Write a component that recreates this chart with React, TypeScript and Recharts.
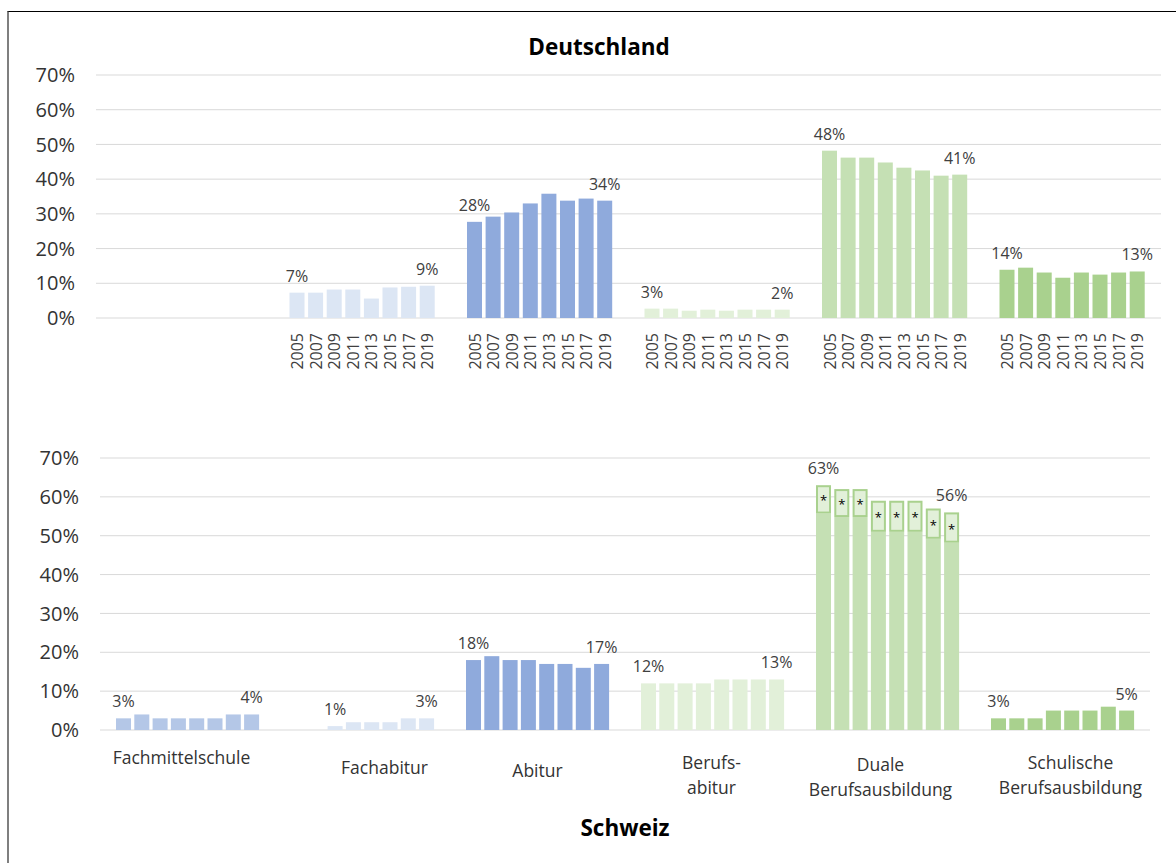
import { Bar, BarChart, CartesianGrid, XAxis, YAxis } from "recharts";

const FONT = '"Open Sans", "Noto Sans", sans-serif';

const groups = [
  "Fachmittelschule",
  "Fachabitur",
  "Abitur",
  "Berufs-\nabitur",
  "Duale\nBerufsausbildung",
  "Schulische\nBerufsausbildung",
];
const years = ["2005", "2007", "2009", "2011", "2013", "2015", "2017", "2019"];
const yTicks = [0, 10, 20, 30, 40, 50, 60, 70];

// Deutschland (%)
const deFachmittelschule = [null, null, null, null, null, null, null, null];
const deFachabitur = [7.3, 7.3, 8.2, 8.2, 5.6, 8.8, 9.0, 9.3];
const deAbitur = [27.7, 29.2, 30.4, 33.0, 35.8, 33.8, 34.4, 33.8];
const deBerufsabitur = [2.7, 2.7, 2.1, 2.4, 2.1, 2.4, 2.4, 2.4];
const deDuale = [48.2, 46.2, 46.2, 44.8, 43.3, 42.5, 41.0, 41.3];
const deSchulisch = [13.9, 14.5, 13.1, 11.6, 13.1, 12.5, 13.1, 13.4];

// Schweiz (%)
const chFachmittelschule = [3, 4, 3, 3, 3, 3, 4, 4];
const chFachabitur = [null, null, 1, 2, 2, 2, 3, 3];
const chAbitur = [18, 19, 18, 18, 17, 17, 16, 17];
const chBerufsabitur = [12, 12, 12, 12, 13, 13, 13, 13];
const chDuale = [63, 62, 62, 59, 59, 59, 57, 56];
const chDualeStar = [7.3, 7.2, 7.2, 8, 8, 8, 7.8, 7.8]; // "*" share on top of the bar
const chSchulisch = [3, 3, 3, 5, 5, 5, 6, 5];

const colors = ["#b4c7e7", "#dce6f4", "#8faadc", "#e2f0d9", "#c5e0b4", "#a9d18e"];

// nudges for the Swiss group labels: [dx, center y below axis]
const LABEL_NUDGE = [
  [-6, 27],
  [22, 37],
  [0, 40],
  [-1, 32],
  [-7, 34],
  [8, 32],
];

type Val = number | null;

function buildRows(series: Val[][], star?: Val[][]) {
  return groups.map((g, gi) => {
    const row: any = { group: g, gi };
    years.forEach((y, yi) => {
      const v = series[gi][yi];
      const s = star ? star[gi][yi] : null;
      row["v" + y] = v == null ? 0 : s ? v - s : v;
      row["s" + y] = s ?? 0;
      row["t" + y] = v;
    });
    return row;
  });
}

function showLabel(row: any, yi: number) {
  const vals = years.map((y) => row["t" + y]);
  const first = vals.findIndex((v) => v != null);
  return yi === first || yi === vals.length - 1;
}

function valueLabel(cx: number, top: number, v: number) {
  return (
    <text x={cx} y={top - 11} textAnchor="middle" fontSize={16} fill="#404040" fontFamily={FONT}>
      {Math.round(v)}%
    </text>
  );
}

function baseShape(yi: number, withYears: boolean) {
  return (p: any) => {
    const row = p.payload;
    const total = row["t" + years[yi]];
    if (total == null) return <g />;
    const star = row["s" + years[yi]];
    const cx = p.x + p.width / 2;
    const base = p.y + p.height;
    return (
      <g>
        <rect x={p.x} y={p.y} width={p.width} height={p.height} fill={colors[row.gi]} />
        {!star && showLabel(row, yi) && valueLabel(cx, p.y, total)}
        {withYears && (
          <text
            x={cx}
            y={base + 15}
            transform={`rotate(-90 ${cx} ${base + 15})`}
            textAnchor="end"
            dominantBaseline="central"
            fontSize={16}
            fill="#404040"
            fontFamily={FONT}
          >
            {years[yi]}
          </text>
        )}
      </g>
    );
  };
}

function starShape(yi: number) {
  return (p: any) => {
    const row = p.payload;
    const star = row["s" + years[yi]];
    if (!star) return <g />;
    const cx = p.x + p.width / 2;
    const cy = p.y + p.height / 2;
    return (
      <g>
        <rect
          x={p.x + 1}
          y={p.y + 1}
          width={p.width - 2}
          height={p.height - 2}
          fill="#e2f0d9"
          stroke="#a9d18e"
          strokeWidth={2}
        />
        <text x={cx} y={cy + 6} textAnchor="middle" fontSize={13} fill="#000" fontFamily={FONT}>
          *
        </text>
        {showLabel(row, yi) && valueLabel(cx, p.y, row["t" + years[yi]])}
      </g>
    );
  };
}

const GroupTick = (props: any) => {
  const { x, y, payload, index } = props;
  const lines = String(payload.value).split("\n");
  const [dx, dy] = LABEL_NUDGE[index] || [0, 30];
  return (
    <g>
      {lines.map((l, i) => (
        <text
          key={i}
          x={x + dx}
          y={y + dy + i * 24.5}
          textAnchor="middle"
          dominantBaseline="central"
          fontSize={17.5}
          fill="#333"
          fontFamily={FONT}
        >
          {l}
        </text>
      ))}
    </g>
  );
};

const yAxisProps = {
  domain: [0, 70] as [number, number],
  ticks: yTicks,
  tickFormatter: (v: number) => `${v}%`,
  axisLine: false,
  tickLine: false,
  tickMargin: 15,
  tick: { fill: "#333", fontSize: 20, fontFamily: FONT },
  interval: 0 as const,
};

const titleStyle = {
  position: "absolute" as const,
  width: 240,
  textAlign: "center" as const,
  fontSize: 22.5,
  lineHeight: "26px",
  fontWeight: 700,
  color: "#000",
};

export default function App() {
  const deRows = buildRows([deFachmittelschule, deFachabitur, deAbitur, deBerufsabitur, deDuale, deSchulisch]);
  const chRows = buildRows(
    [chFachmittelschule, chFachabitur, chAbitur, chBerufsabitur, chDuale, chSchulisch],
    [[], [], [], [], chDualeStar, []].map((a) => years.map((_, i) => (a as Val[])[i] ?? null))
  );

  return (
    <div
      style={{
        position: "fixed",
        left: 0,
        top: 0,
        width: 1176,
        height: 863,
        overflow: "hidden",
        background: "#fff",
        fontFamily: FONT,
      }}
    >
      <div
        style={{
          position: "absolute",
          left: 7,
          top: 11,
          width: 1200,
          height: 900,
          borderTop: "1px solid #000",
          borderLeft: "2px solid #7f7f7f",
        }}
      />
      <div style={{ ...titleStyle, left: 479, top: 34 }}>Deutschland</div>
      <div style={{ ...titleStyle, left: 505, top: 815 }}>Schweiz</div>

      <div style={{ position: "absolute", left: 0, top: 0 }}>
        <BarChart
          width={1176}
          height={400}
          data={deRows}
          margin={{ top: 75, right: 15, bottom: 82, left: 0 }}
          barGap={3.6}
          barSize={15}
        >
          <CartesianGrid vertical={false} stroke="#d9d9d9" />
          <XAxis dataKey="group" hide />
          <YAxis width={96} {...yAxisProps} />
          {years.map((y, yi) => (
            <Bar
              key={y}
              dataKey={"v" + y}
              shape={baseShape(yi, true)}
              isAnimationActive={false}
            />
          ))}
        </BarChart>
      </div>

      <div style={{ position: "absolute", left: 0, top: 400 }}>
        <BarChart
          width={1176}
          height={420}
          data={chRows}
          margin={{ top: 58, right: 26, bottom: 0, left: 0 }}
          barGap={3.3}
          barSize={15}
        >
          <CartesianGrid vertical={false} stroke="#d9d9d9" />
          <XAxis
            dataKey="group"
            height={90}
            axisLine={false}
            tickLine={false}
            tickSize={0}
            tickMargin={0}
            interval={0}
            tick={<GroupTick />}
          />
          <YAxis width={100} {...yAxisProps} />
          {years.flatMap((y, yi) => [
            <Bar
              key={"v" + y}
              dataKey={"v" + y}
              stackId={y}
              shape={baseShape(yi, false)}
              isAnimationActive={false}
            />,
            <Bar
              key={"s" + y}
              dataKey={"s" + y}
              stackId={y}
              shape={starShape(yi)}
              isAnimationActive={false}
            />,
          ])}
        </BarChart>
      </div>
    </div>
  );
}
